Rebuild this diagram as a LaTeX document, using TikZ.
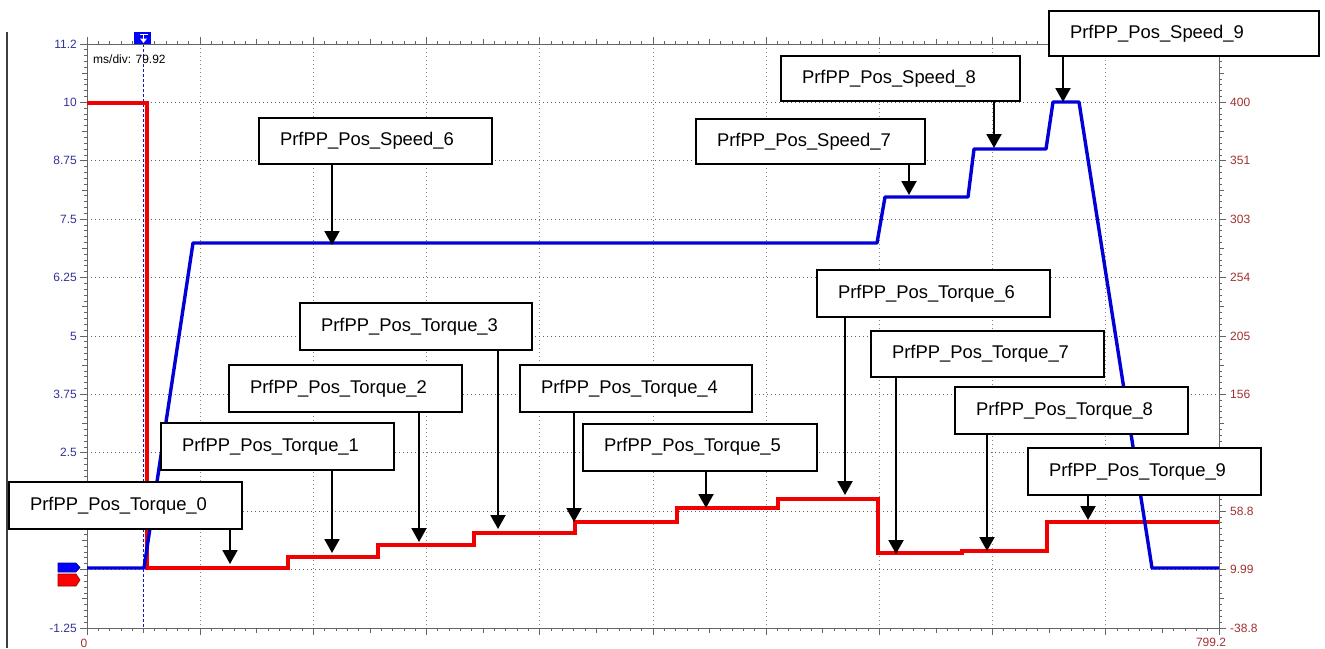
\documentclass[tikz,border=0pt]{standalone}
\usepackage{fontspec}
\setmainfont{Liberation Sans}
\usetikzlibrary{arrows.meta}
\definecolor{axc}{RGB}{100,100,100}
\definecolor{leftc}{RGB}{51,51,153}
\definecolor{rightc}{RGB}{160,50,50}
\definecolor{curvered}{RGB}{240,0,0}
\definecolor{curveblue}{RGB}{0,0,215}
\definecolor{hgrid}{RGB}{90,90,130}
\definecolor{vgrid}{RGB}{130,130,130}
\definecolor{trigc}{RGB}{20,20,200}
\tikzset{
  axline/.style={axc, line width=0.9pt},
  hgridline/.style={hgrid, line width=0.9pt, dash pattern=on 1pt off 3pt},
  vgridline/.style={vgrid, line width=0.9pt, dash pattern=on 1pt off 3pt},
  leftlab/.style={leftc, anchor=east, inner sep=0pt, font=\fontsize{12}{14}\selectfont},
  rightlab/.style={rightc, anchor=west, inner sep=0pt, font=\fontsize{12}{14}\selectfont},
  lbl/.style={draw=black, line width=2pt, fill=white, inner xsep=21pt, inner ysep=0pt,
    align=left, font=\fontsize{18.4}{21}\selectfont},
  arr/.style={black, line width=2pt, -{Triangle[width=15pt,length=14pt]}},
  redcurve/.style={curvered, line width=3.6pt, line join=miter},
  bluecurve/.style={curveblue, line width=3.4pt, line join=round},
}
\begin{document}
\begin{tikzpicture}[x=1pt,y=-1pt]
\useasboundingbox (0,0) rectangle (1325,648);
\fill[white] (0,0) rectangle (1325,648);

% left window border
\draw[line width=1.5pt, black!75] (7,32) -- (7,648);

% grid
\foreach \i in {1,...,9} {
  \draw[vgridline] ({87+113.2*\i},44) -- ({87+113.2*\i},628);
  \draw[hgridline] (87,{44+58.4*\i}) -- (1219,{44+58.4*\i});
}

% trigger line
\draw[trigc, line width=1pt, dash pattern=on 3pt off 2pt] (143.5,44) -- (143.5,628);

% axes frame
\draw[axline] (87,44) rectangle (1219,628);
% ticks top / bottom
\foreach \i in {0,...,100} {
  \draw[axline] ({87+11.32*\i},44) -- ++(0,-3);
  \draw[axline] ({87+11.32*\i},628) -- ++(0,3);
}
\foreach \i in {0,5,...,100} {
  \draw[axline] ({87+11.32*\i},44) -- ++(0,-5);
  \draw[axline] ({87+11.32*\i},628) -- ++(0,5);
}
\foreach \i in {0,10,...,100} {
  \draw[axline] ({87+11.32*\i},44) -- ++(0,-7);
  \draw[axline] ({87+11.32*\i},628) -- ++(0,7);
}
% ticks left / right
\foreach \j in {0,...,100} {
  \draw[axline] (87,{44+5.84*\j}) -- ++(-3,0);
  \draw[axline] (1219,{44+5.84*\j}) -- ++(3,0);
}
\foreach \j in {0,5,...,100} {
  \draw[axline] (87,{44+5.84*\j}) -- ++(-5,0);
  \draw[axline] (1219,{44+5.84*\j}) -- ++(5,0);
}
\foreach \j in {0,10,...,100} {
  \draw[axline] (87,{44+5.84*\j}) -- ++(-7,0);
  \draw[axline] (1219,{44+5.84*\j}) -- ++(7,0);
}

% axis labels
\foreach \v/\y [count=\k] in {11.2/44, 10/102.4, 8.75/160.8, 7.5/219.2, 6.25/277.6, 5/336, 3.75/394.4, 2.5/452.8, -1.25/628}
  \node[leftlab] (ll\k) at (77,\y) {\v};
\foreach \v/\y [count=\k] in {400/102.4, 351/160.8, 303/219.2, 254/277.6, 205/336, 156/394.4, 107/452.8, 58.8/511.2, 9.99/569.6, -38.8/628}
  \node[rightlab] (rl\k) at (1230,\y) {\v};
\node[rightc, inner sep=0pt, font=\fontsize{12}{14}\selectfont] (bx0) at (84,643) {0};
\node[rightc, inner sep=0pt, font=\fontsize{12}{14}\selectfont] (bx1) at (1211,642) {799.2};

\node[black, anchor=west, inner sep=0pt, font=\fontsize{12}{14}\selectfont] (msdiv) at (93,59) {ms/div: 79.92};

% trigger marker
\fill[blue] (134,32) rectangle (151,44);
\draw[white, line width=1.3pt] (139.5,34.6) -- (147.5,34.6) (143.5,34.6) -- (143.5,39);
\fill[white] (140,38.5) -- (147,38.5) -- (143.5,43) -- cycle;

% channel markers
\fill[blue, draw=blue!60!black, line width=0.6pt] (58,563) -- (76,563) -- (80,567.5) -- (76,572) -- (58,572) -- cycle;
\fill[red, draw=red!60!black, line width=0.6pt] (58,574) -- (76,574) -- (80,580) -- (76,586) -- (58,586) -- cycle;

% curves
\draw[redcurve] (87,103) -- (147,103) -- (147,568) -- (288,568) -- (288,557) -- (378,557)
  -- (378,545) -- (474,545) -- (474,533) -- (575,533) -- (575,522) -- (677,522)
  -- (677,508) -- (778,508) -- (778,499) -- (878,499) -- (878,553) -- (962,553)
  -- (962,551) -- (1047,551) -- (1047,522) -- (1219,522);
\draw[bluecurve] (87,568) -- (144,568) -- (193,243) -- (877,243) -- (885,197) -- (968,197)
  -- (974,149) -- (1046,149) -- (1053,102) -- (1079,102) -- (1152,568) -- (1219,568);

% label boxes
\node[lbl, text width=191pt, minimum height=47pt] (t0) at (125.5,505.5) {PrfPP\_Pos\_Torque\_0};
\node[lbl, text width=191pt, minimum height=47pt] (t1) at (277.5,446.5) {PrfPP\_Pos\_Torque\_1};
\node[lbl, text width=191pt, minimum height=47pt] (t2) at (345.5,388.5) {PrfPP\_Pos\_Torque\_2};
\node[lbl, text width=190pt, minimum height=47pt] (t3) at (416,326.5) {PrfPP\_Pos\_Torque\_3};
\node[lbl, text width=190pt, minimum height=47pt] (t4) at (636,388.5) {PrfPP\_Pos\_Torque\_4};
\node[lbl, text width=192pt, minimum height=47pt] (t5) at (700,447) {PrfPP\_Pos\_Torque\_5};
\node[lbl, text width=191pt, minimum height=47pt] (t6) at (933.5,293.5) {PrfPP\_Pos\_Torque\_6};
\node[lbl, text width=191pt, minimum height=46pt] (t7) at (987.5,354) {PrfPP\_Pos\_Torque\_7};
\node[lbl, text width=191pt, minimum height=47pt] (t8) at (1071.5,410.5) {PrfPP\_Pos\_Torque\_8};
\node[lbl, text width=191pt, minimum height=47pt] (t9) at (1144.5,471.5) {PrfPP\_Pos\_Torque\_9};
\node[lbl, text width=191pt, minimum height=46pt] (s6) at (375.5,141) {PrfPP\_Pos\_Speed\_6};
\node[lbl, text width=187pt, minimum height=45pt] (s7) at (810.5,141.5) {PrfPP\_Pos\_Speed\_7};
\node[lbl, text width=197pt, minimum height=45pt] (s8) at (900.5,78.5) {PrfPP\_Pos\_Speed\_8};
\node[lbl, text width=228pt, minimum height=45pt] (s9) at (1184,33.5) {PrfPP\_Pos\_Speed\_9};

% arrow targets
\coordinate (pt0) at (230,564);
\coordinate (pt1) at (332,553);
\coordinate (pt2) at (419,542);
\coordinate (pt3) at (498,529);
\coordinate (pt4) at (574,522);
\coordinate (pt5) at (706,508);
\coordinate (pt6) at (845,495);
\coordinate (pt7) at (896,554);
\coordinate (pt8) at (987,551);
\coordinate (pt9) at (1088,520);
\coordinate (ps6) at (332,245);
\coordinate (ps7) at (909,195);
\coordinate (ps8) at (994,148);
\coordinate (ps9) at (1063,102);

\foreach \n/\p in {t0/pt0, t1/pt1, t2/pt2, t3/pt3, t4/pt4, t5/pt5, t6/pt6, t7/pt7, t8/pt8, t9/pt9, s6/ps6, s7/ps7, s8/ps8, s9/ps9}
  \draw[arr] (\n.south -| \p) -- (\p);
\end{tikzpicture}
\end{document}
